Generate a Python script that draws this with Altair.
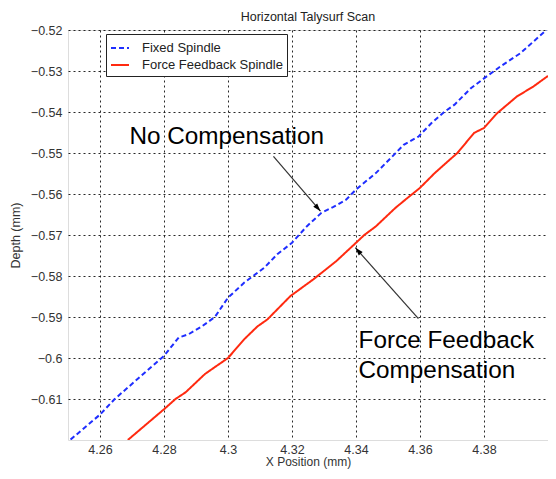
import math
import altair as alt
import pandas as pd

# ---- data ----
fixed_x = [4.2508, 4.2600, 4.2646, 4.2800, 4.2846, 4.2877, 4.2918, 4.2959, 4.3000,
           4.3051, 4.3113, 4.3154, 4.3200, 4.3246, 4.3292, 4.3328, 4.3369, 4.3400,
           4.3462, 4.3523, 4.3549, 4.3595, 4.3636, 4.3677, 4.3708, 4.3759, 4.3800,
           4.3851, 4.3913, 4.3995]
fixed_y = [-0.6199, -0.6138, -0.6100, -0.5995, -0.5950, -0.5942, -0.5923, -0.5900, -0.5853,
           -0.5816, -0.5780, -0.5747, -0.5719, -0.5679, -0.5646, -0.5632, -0.5614, -0.5589,
           -0.5549, -0.5501, -0.5480, -0.5460, -0.5427, -0.5399, -0.5382, -0.5342, -0.5318,
           -0.5289, -0.5257, -0.5200]

ffb_x = [4.2687, 4.2800, 4.2836, 4.2867, 4.2928, 4.3000, 4.3051, 4.3092, 4.3123,
         4.3195, 4.3267, 4.3338, 4.3400, 4.3426, 4.3462, 4.3523, 4.3554, 4.3600,
         4.3646, 4.3718, 4.3769, 4.3800, 4.3841, 4.3903, 4.3954, 4.4000]
ffb_y = [-0.6200, -0.6125, -0.6100, -0.6084, -0.6039, -0.6000, -0.5954, -0.5923, -0.5906,
         -0.5849, -0.5808, -0.5764, -0.5719, -0.5700, -0.5679, -0.5634, -0.5614, -0.5585,
         -0.5549, -0.5499, -0.5451, -0.5439, -0.5403, -0.5362, -0.5338, -0.5312]

series_names = ["Fixed Spindle", "Force Feedback Spindle"]
x_ticks = [4.26, 4.28, 4.30, 4.32, 4.34, 4.36, 4.38]
y_ticks = [-0.61, -0.60, -0.59, -0.58, -0.57, -0.56, -0.55, -0.54, -0.53, -0.52]

# annotations (data coordinates)
ann_text = ["No Compensation", "Force Feedback", "Compensation"]
ann_x = [4.2692, 4.3408, 4.3408]
ann_y = [-0.5478, -0.5976, -0.6049]
arrow_x1 = [4.3142, 4.3595]
arrow_y1 = [-0.5508, -0.5904]
arrow_x2 = [4.3289, 4.3398]
arrow_y2 = [-0.5642, -0.5731]

X_DOM = [4.25, 4.40]
Y_DOM = [-0.62, -0.52]
W, H = 480, 410
FONT = "Liberation Sans"

df = pd.concat([
    pd.DataFrame({"x": fixed_x, "y": fixed_y, "s": series_names[0]}),
    pd.DataFrame({"x": ffb_x, "y": ffb_y, "s": series_names[1]}),
])

xs = alt.Scale(domain=X_DOM, nice=False, zero=False)
ys = alt.Scale(domain=Y_DOM, nice=False, zero=False)

x_axis = alt.Axis(values=x_ticks, format=".2~f", title="X Position (mm)", grid=True,
                  gridDash=[2, 3], gridColor="#111", gridOpacity=0.9, ticks=False,
                  labelFontSize=12.5, titleFontSize=12, labelFont=FONT, titleFont=FONT,
                  labelColor="#333", titleColor="#333", titleFontWeight="normal",
                  labelPadding=3, titlePadding=1, domain=False)
y_axis = alt.Axis(values=y_ticks, format=".2~f", title="Depth (mm)", grid=True,
                  gridDash=[2, 3], gridColor="#111", gridOpacity=0.9, ticks=False,
                  labelFontSize=12.5, titleFontSize=12.5, labelFont=FONT, titleFont=FONT,
                  labelColor="#333", titleColor="#333", titleFontWeight="normal",
                  labelPadding=6, titlePadding=8, domain=False)

legend_kw = dict(title=None, orient="none", legendX=38, legendY=4,
                 symbolType="stroke", symbolSize=324, symbolStrokeWidth=2,
                 labelFontSize=13, labelFont=FONT, labelColor="#222",
                 fillColor="white", strokeColor="#222", padding=4,
                 rowPadding=-1, labelOffset=12)

lines = alt.Chart(df).mark_line(strokeWidth=2, clip=True).encode(
    x=alt.X("x:Q", scale=xs, axis=x_axis),
    y=alt.Y("y:Q", scale=ys, axis=y_axis),
    color=alt.Color("s:N", scale=alt.Scale(domain=series_names, range=["#1f2eff", "#ff2a10"]),
                    legend=alt.Legend(**legend_kw)),
    strokeDash=alt.StrokeDash("s:N", scale=alt.Scale(domain=series_names, range=[[5, 3], [1, 0]]),
                              legend=alt.Legend(**legend_kw)),
)

ann_df = pd.DataFrame({"t": ann_text, "x": ann_x, "y": ann_y})
texts = alt.Chart(ann_df).mark_text(align="left", baseline="alphabetic", fontSize=24.3,
                                    font=FONT, color="black").encode(
    x=alt.X("x:Q", scale=xs), y=alt.Y("y:Q", scale=ys), text="t:N")

# arrow angles from pixel geometry
sx = W / (X_DOM[1] - X_DOM[0])
sy = H / (Y_DOM[1] - Y_DOM[0])
angles = []
for a, b, c, d in zip(arrow_x1, arrow_y1, arrow_x2, arrow_y2):
    dx = (c - a) * sx
    dy = -(d - b) * sy
    angles.append(math.degrees(math.atan2(dx, -dy)) % 360)

arr_df = pd.DataFrame({"x1": arrow_x1, "y1": arrow_y1, "x2": arrow_x2, "y2": arrow_y2,
                       "ang": angles})
shafts = alt.Chart(arr_df).mark_rule(color="#333", strokeWidth=1.2).encode(
    x=alt.X("x1:Q", scale=xs), y=alt.Y("y1:Q", scale=ys), x2="x2:Q", y2="y2:Q")
heads = alt.Chart(arr_df).mark_point(shape="M0,0L0.32,1L-0.32,1Z", filled=True, size=260,
                                     color="black", opacity=1).encode(
    x=alt.X("x2:Q", scale=xs), y=alt.Y("y2:Q", scale=ys),
    angle=alt.Angle("ang:Q", scale=None))

chart = alt.layer(lines, shafts, heads, texts).properties(
    width=W, height=H,
    title=alt.TitleParams("Horizontal Talysurf Scan", fontSize=12.5, font=FONT,
                          fontWeight="normal", color="#222", offset=6, dy=5),
    autosize=alt.AutoSizeParams(type="none"),
    padding={"left": 60, "top": 22, "right": 0, "bottom": 31},
).configure_view(stroke="#333", strokeWidth=1.2).configure(background="white")

chart.save("out.html", embed_options={"renderer": "svg", "actions": False})
